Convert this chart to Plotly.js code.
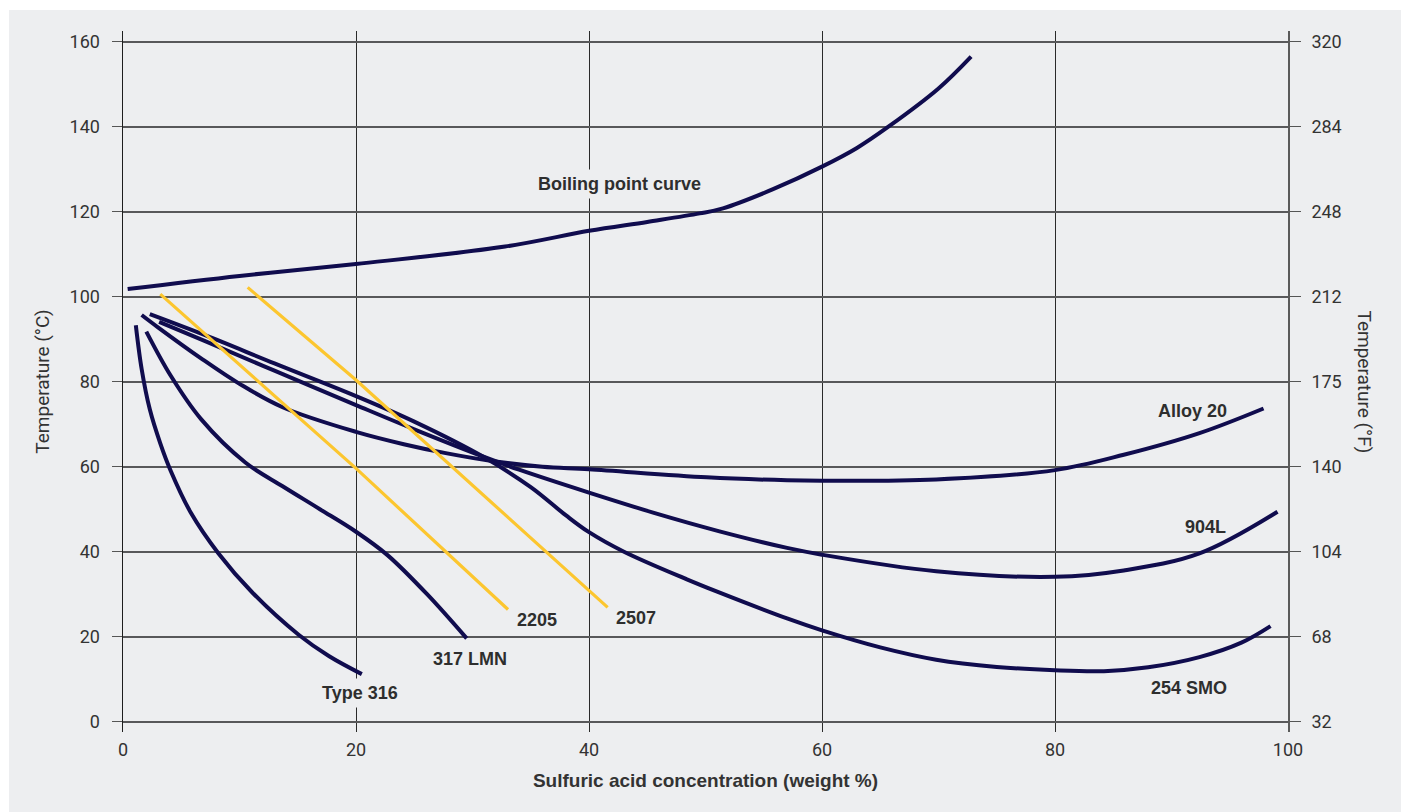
<!DOCTYPE html>
<html>
<head>
<meta charset="utf-8">
<script src="https://cdn.plot.ly/plotly-3.0.1.min.js"></script>
<style>html,body{margin:0;padding:0;background:#fff;}#chart{width:1406px;height:812px;}</style>
</head>
<body>
<div id="chart"></div>
<script>
// ---- Data (temperature in °C vs sulfuric acid weight %) ----
const xTicks = [0, 20, 40, 60, 80, 100];
const yTicksC = [0, 20, 40, 60, 80, 100, 120, 140, 160];
const yTicksF = ['32', '68', '104', '140', '175', '212', '248', '284', '320'];

const boilX = [0.4, 10, 20, 32.8, 40, 45, 49.5, 51.5, 55.8, 60, 63, 65.7, 70, 72.8];
const boilY = [101.8, 104.9, 107.7, 111.8, 115.5, 117.6, 119.6, 120.8, 125.3, 130.6, 135.0, 140, 149.0, 156.5];

const t316X = [1.1, 1.6, 2.3, 3.2, 4.1, 5.8, 8.2, 11.1, 15.1, 17.7, 20.5];
const t316Y = [93.3, 83, 73.5, 65.5, 59, 49.3, 39.6, 30.4, 20.4, 15.4, 11.2];

const l317X = [2.0, 4.1, 6.7, 10.5, 13.7, 16.9, 20, 22.7, 26.1, 29.5];
const l317Y = [91.8, 81.4, 71.2, 61, 55.4, 50, 44.7, 39.2, 30, 19.6];

const a20X = [1.6, 3, 6.7, 10, 13.7, 20, 24.1, 27.7, 31.8, 36, 40, 50.1, 57, 60, 69.8, 80, 85.9, 92.4, 97.9];
const a20Y = [95.7, 92.8, 85.5, 79.5, 74, 68.2, 65.3, 63.2, 61.3, 60.0, 59.4, 57.5, 56.8, 56.7, 57.0, 59.2, 62.8, 67.9, 73.7];

const n904X = [3.1, 7, 13, 20, 25, 31, 34, 40, 45.5, 51.2, 57, 60, 69.8, 80, 85.9, 92.4, 99.1];
const n904Y = [94.1, 89.6, 82.6, 74.5, 68.8, 62.3, 59.3, 53.9, 49.2, 44.8, 40.9, 39.3, 35.4, 34.1, 35.6, 39.6, 49.4];

const smoX = [2.3, 7, 13, 20, 25, 31, 35, 38, 40, 43, 48.4, 51, 57, 60, 65, 69.8, 75, 80, 84.2, 88, 92.4, 96, 98.5];
const smoY = [95.9, 91.0, 84.3, 76.6, 70.6, 62.2, 55.2, 48.6, 44.6, 40.0, 33.5, 30.6, 24.3, 21.5, 17.5, 14.6, 12.9, 12.1, 11.9, 12.8, 15.2, 18.6, 22.5];

const d2205X = [3.2, 20, 33.05];
const d2205Y = [100.6, 59.6, 26.4];

const d2507X = [10.7, 20, 41.6];
const d2507Y = [102.2, 80.4, 26.9];

const labelText = ['Boiling point curve', 'Type 316', '317 LMN', '2205', '2507', 'Alloy 20', '904L', '254 SMO'];

// ---- Styling ----
const NAVY = '#100c4e';
const GOLD = '#fcc62f';
const BG = '#edeef0';

function navy(x, y, name) {
  return {x: x, y: y, name: name, type: 'scatter', mode: 'lines',
    line: {color: NAVY, width: 4, shape: 'spline', smoothing: 1}, hoverinfo: 'skip', showlegend: false};
}
function gold(x, y, name) {
  return {x: x, y: y, name: name, type: 'scatter', mode: 'lines',
    line: {color: GOLD, width: 3.2}, hoverinfo: 'skip', showlegend: false};
}

const traces = [
  navy(boilX, boilY, labelText[0]),
  navy(t316X, t316Y, labelText[1]),
  navy(l317X, l317Y, labelText[2]),
  navy(a20X, a20Y, labelText[5]),
  navy(n904X, n904Y, labelText[6]),
  navy(smoX, smoY, labelText[7]),
  gold(d2205X, d2205Y, labelText[3]),
  gold(d2507X, d2507Y, labelText[4]),
  // invisible trace to activate the right axis
  {x: [0], y: [0], yaxis: 'y2', type: 'scatter', mode: 'markers', marker: {opacity: 0}, hoverinfo: 'skip', showlegend: false}
];

const labelPos = [
  [42.6, 126.6], [20.3, 6.8], [29.8, 14.8], [35.5, 23.9],
  [44.0, 24.5], [91.8, 73.0], [92.9, 45.8], [91.5, 8.0]
];
const labelMask = [true, true, false, false, false, false, false, false];

const annFont = {family: 'Liberation Sans, Arial, sans-serif', size: 18, color: '#2e2e2e'};
const annotations = labelText.map((t, i) => ({
  x: labelPos[i][0], y: labelPos[i][1], xref: 'x', yref: 'y',
  text: '<b>' + t + '</b>', showarrow: false, font: annFont,
  xanchor: 'center', yanchor: 'middle',
  bgcolor: labelMask[i] ? BG : 'rgba(0,0,0,0)', borderpad: 4
}));

annotations.push({
  xref: 'paper', yref: 'paper', x: 1, y: 0.5, xanchor: 'center', yanchor: 'middle',
  xshift: 1364 - 1288, text: 'Temperature (°F)', textangle: 90, showarrow: false,
  font: {family: 'Roboto, sans-serif', size: 19, color: '#333'}
});

const tickFont = {family: 'Roboto, sans-serif', size: 18, color: '#333'};
const yRange = [-2.42, 162.52];

const layout = {
  width: 1406, height: 812,
  margin: {l: 123, r: 118, t: 31, b: 80, pad: 0},
  paper_bgcolor: '#ffffff',
  plot_bgcolor: 'rgba(0,0,0,0)',
  showlegend: false,
  xaxis: {
    range: [0, 100], tickvals: xTicks, ticktext: xTicks.map(String),
    showgrid: true, gridcolor: '#2a2a2a', gridwidth: 1,
    zeroline: false, showline: false, ticks: '', ticklabelstandoff: 5,
    tickfont: tickFont, fixedrange: true,
    title: {text: '<b>Sulfuric acid concentration (weight %)</b>', standoff: 14,
      font: {family: 'Liberation Sans, Arial, sans-serif', size: 19, color: '#333'}}
  },
  yaxis: {
    range: yRange, tickvals: yTicksC, ticktext: yTicksC.map(String),
    showgrid: true, gridcolor: '#58585a', gridwidth: 1.6,
    zeroline: false, showline: true, linecolor: '#1e1e1e', linewidth: 1.5,
    ticks: 'outside', ticklen: 10, tickcolor: '#555555', tickwidth: 1.5,
    ticklabelstandoff: 8, tickfont: tickFont, fixedrange: true,
    title: {text: 'Temperature (°C)', standoff: 15,
      font: {family: 'Roboto, sans-serif', size: 19, color: '#333'}}
  },
  yaxis2: {
    overlaying: 'y', side: 'right', range: yRange, tickvals: yTicksC, ticktext: yTicksF,
    showgrid: false, zeroline: false, showline: true, linecolor: '#5a5a5a', linewidth: 1.8,
    ticks: 'outside', ticklen: 11, tickcolor: '#555555', tickwidth: 1.5,
    ticklabelstandoff: 7, tickfont: tickFont, fixedrange: true
  },
  shapes: [{
    type: 'rect', xref: 'paper', yref: 'paper', layer: 'below',
    x0: (9 - 123) / 1165, x1: (1401 - 123) / 1165,
    y0: -0.2, y1: (732 - 10) / 701,
    fillcolor: BG, line: {width: 0}
  }],
  annotations: annotations
};

Plotly.newPlot('chart', traces, layout, {displayModeBar: false, staticPlot: true});
</script>
</body>
</html>
